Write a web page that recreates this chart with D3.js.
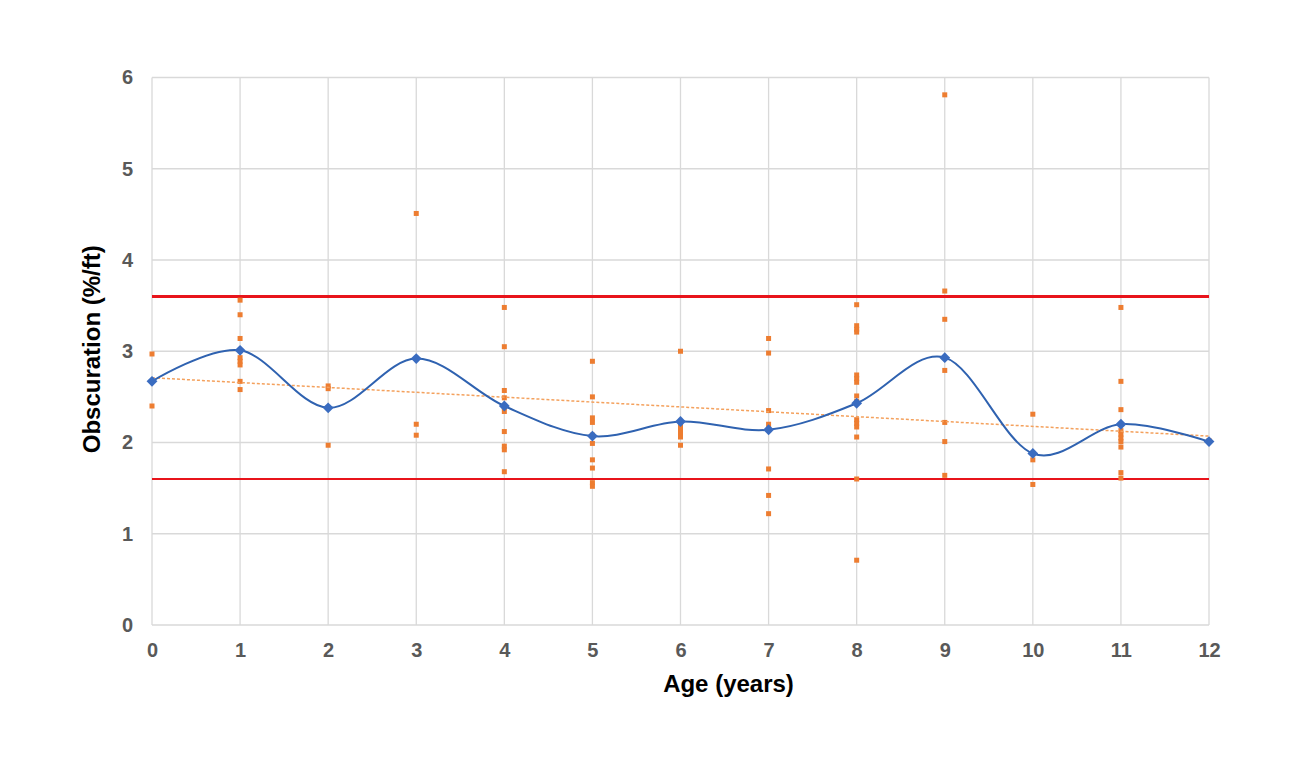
<!DOCTYPE html>
<html>
<head>
<meta charset="utf-8">
<script src="https://cdn.jsdelivr.net/npm/d3@7"></script>
<style>
  body { margin: 0; background: #fff; }
  text { font-family: "Liberation Sans", Arial, sans-serif; }
</style>
</head>
<body>
<div id="main-frame"></div>
<script>
// individual measurements per age
const ages = [0, 1, 2, 3, 4, 5, 6, 7, 8, 9, 10, 11, 12];
const samples = [
  [2.97, 2.40],
  [3.56, 3.40, 3.14, 2.93, 2.89, 2.85, 2.67, 2.58],
  [2.62, 2.59, 1.97],
  [4.51, 2.20, 2.08],
  [3.48, 3.05, 2.57, 2.49, 2.39, 2.34, 2.12, 1.96, 1.92, 1.68],
  [2.89, 2.50, 2.27, 2.22, 2.08, 1.99, 1.81, 1.72, 1.56, 1.52],
  [3.00, 2.22, 2.18, 2.14, 2.10, 2.06, 1.97],
  [3.14, 2.98, 2.35, 2.20, 2.15, 1.71, 1.42, 1.22],
  [3.51, 3.28, 3.24, 3.21, 2.74, 2.70, 2.66, 2.51, 2.45, 2.25, 2.21, 2.17, 2.06, 1.60, 0.71],
  [5.81, 3.66, 3.35, 2.79, 2.22, 2.01, 1.64],
  [2.31, 1.81, 1.54],
  [3.48, 2.67, 2.36, 2.13, 2.09, 2.05, 2.01, 1.95, 1.67, 1.61],
  [2.02]
];
// mean per age (blue smoothed line)
const means = [2.67, 3.01, 2.38, 2.92, 2.40, 2.07, 2.23, 2.14, 2.43, 2.93, 1.88, 2.20, 2.01];
// linear trend end points
const trend = [[0, 2.71], [12, 2.07]];
// limit lines
const limits = [3.6, 1.6];

const xTicks = d3.range(0, 13);
const yTicks = d3.range(0, 7);

const margin = { top: 77.5, right: 91, bottom: 140, left: 152 };
const W = 1300, H = 765;
const width = W - margin.left - margin.right;
const height = H - margin.top - margin.bottom;

const svg = d3.select("#main-frame")
  .append("svg")
  .attr("width", W)
  .attr("height", H)
  .append("g")
  .attr("transform", `translate(${margin.left}, ${margin.top})`);

const x = d3.scaleLinear().domain([0, 12]).range([0, width]);
const y = d3.scaleLinear().domain([0, 6]).range([height, 0]);

// gridlines
svg.append("g")
  .selectAll("line.h")
  .data(yTicks)
  .join("line")
  .attr("x1", 0).attr("x2", width)
  .attr("y1", d => y(d)).attr("y2", d => y(d))
  .attr("stroke", "#d9d9d9").attr("stroke-width", 1.3);

svg.append("g")
  .selectAll("line.v")
  .data(xTicks)
  .join("line")
  .attr("y1", 0).attr("y2", height)
  .attr("x1", d => x(d)).attr("x2", d => x(d))
  .attr("stroke", "#d9d9d9").attr("stroke-width", 1.3);

// axes (labels only)
const xAxis = svg.append("g")
  .attr("transform", `translate(0, ${height})`)
  .call(d3.axisBottom(x).tickValues(xTicks).tickSize(0).tickPadding(18).tickFormat(d3.format("d")));
const yAxis = svg.append("g")
  .call(d3.axisLeft(y).tickValues(yTicks).tickSize(0).tickPadding(19).tickFormat(d3.format("d")));
[xAxis, yAxis].forEach(a => {
  a.select(".domain").remove();
  a.selectAll("text")
    .attr("fill", "#595959")
    .style("font-size", "20px")
    .style("font-weight", "bold")
    .style("font-family", "'Liberation Sans', Arial, sans-serif");
});

// limit lines
svg.selectAll("line.limit")
  .data(limits)
  .join("line")
  .attr("x1", 0).attr("x2", width)
  .attr("y1", d => y(d)).attr("y2", d => y(d))
  .attr("stroke", "#e8141b")
  .attr("stroke-width", (d, i) => i === 0 ? 3 : 2.2);

// scatter points
const points = [];
ages.forEach((a, i) => samples[i].forEach(v => points.push([a, v])));
svg.append("g")
  .selectAll("rect")
  .data(points)
  .join("rect")
  .attr("x", d => x(d[0]) - 2.5)
  .attr("y", d => y(d[1]) - 2.5)
  .attr("width", 5)
  .attr("height", 5)
  .attr("fill", "#ed7d31");

// trend line
svg.append("path")
  .datum(trend)
  .attr("d", d3.line().x(d => x(d[0])).y(d => y(d[1])))
  .attr("fill", "none")
  .attr("stroke", "#f4a15d")
  .attr("stroke-width", 1.5)
  .attr("stroke-dasharray", "3,2");

// mean line, smoothed
const meanData = ages.map((a, i) => [a, means[i]]);
svg.append("path")
  .datum(meanData)
  .attr("d", d3.line().curve(d3.curveCardinal.tension(0)).x(d => x(d[0])).y(d => y(d[1])))
  .attr("fill", "none")
  .attr("stroke", "#2f62b0")
  .attr("stroke-width", 2);

svg.append("g")
  .selectAll("path")
  .data(meanData)
  .join("path")
  .attr("transform", d => `translate(${x(d[0])}, ${y(d[1])})`)
  .attr("d", d3.symbol(d3.symbolDiamond2, 75))
  .attr("fill", "#3a6cc0");

// axis titles
svg.append("text")
  .attr("x", width / 2 + 48)
  .attr("y", height + 67)
  .attr("text-anchor", "middle")
  .style("font-size", "24px")
  .style("font-weight", "bold")
  .attr("fill", "#000")
  .text("Age (years)");

svg.append("text")
  .attr("transform", `translate(${-152 + 100}, ${height / 2 - 2}) rotate(-90)`)
  .attr("text-anchor", "middle")
  .style("font-size", "24px")
  .style("font-weight", "bold")
  .attr("fill", "#000")
  .text("Obscuration (%/ft)");
</script>
</body>
</html>
